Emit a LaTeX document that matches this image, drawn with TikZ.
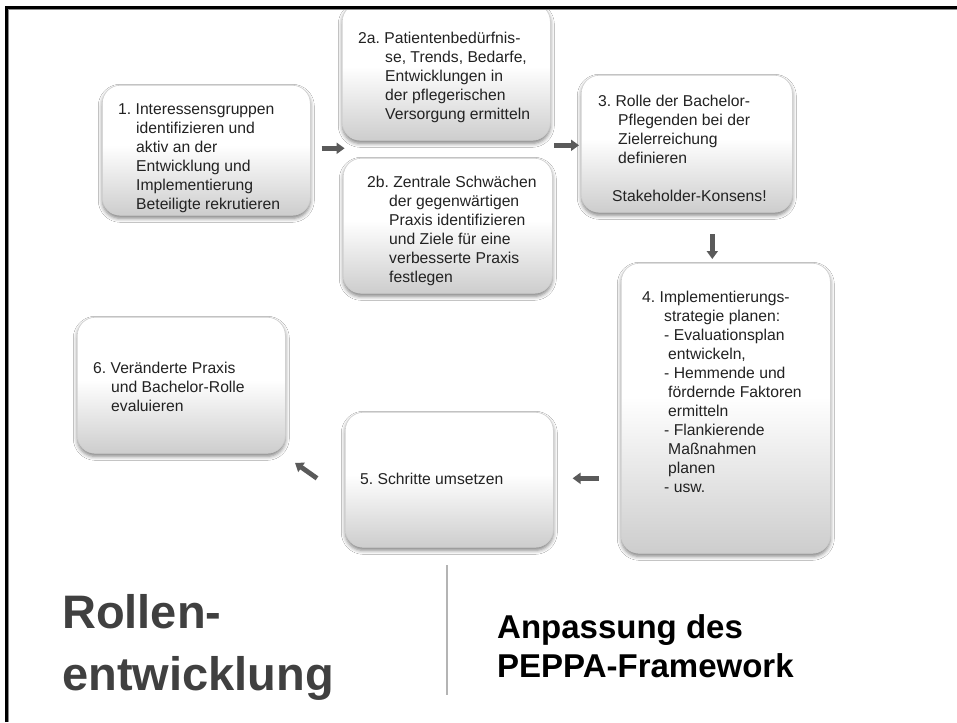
\documentclass[tikz,border=0pt]{standalone}
\usepackage{fontspec}
\setmainfont{Liberation Sans}
\usetikzlibrary{arrows.meta,shadows.blur}
\definecolor{arrgray}{HTML}{5A5A5A}
\definecolor{titlegray}{HTML}{404040}
\definecolor{boxedge}{HTML}{CFCFCF}
\definecolor{boxlow}{HTML}{CDCDCD}
\definecolor{framegray}{HTML}{8C8C8C}
\definecolor{divgray}{HTML}{B4B4B4}
\definecolor{boxtext}{HTML}{222222}
\pgfdeclareverticalshading{boxgrad}{100bp}{color(0bp)=(boxlow); color(25bp)=(boxlow); color(52bp)=(white); color(100bp)=(white)}
\newcommand\hi[1]{\hspace*{#1pt}}
\begin{document}
\begin{tikzpicture}[x=1pt,y=-1pt,
  stepbox/.style={draw=boxedge, line width=0.6pt, rounded corners=18pt, shading=boxgrad,
    blur shadow={shadow xshift=0pt, shadow yshift=-3pt, shadow blur radius=4pt, shadow opacity=50},
    anchor=north west, inner sep=0pt},
  txt/.style={anchor=west, align=left, inner sep=0pt, font=\fontsize{15.7}{19}\selectfont, text=boxtext},
  arr/.style={draw=arrgray, line width=4.8pt, -{Triangle[length=8pt,width=11pt]}},
  titlefont/.style={anchor=base west, inner sep=0pt, font=\fontsize{47}{62}\selectfont\bfseries, text=titlegray},
  subfont/.style={anchor=base west, inner sep=0pt, font=\fontsize{33}{40}\selectfont\bfseries, text=black},
]
\useasboundingbox (0,0) rectangle (957,722);
\fill[white] (0,0) rectangle (957,722);

% boxes
\node[stepbox, minimum width=208pt, minimum height=130pt] (b1) at (102,85) {};
\node[stepbox, minimum width=208pt, minimum height=137pt] (b2a) at (342,3) {};
\node[stepbox, minimum width=209pt, minimum height=135pt] (b2b) at (343,158) {};
\node[stepbox, minimum width=211pt, minimum height=137pt] (b3) at (581,75) {};
\node[stepbox, minimum width=209pt, minimum height=290pt] (b4) at (621,263) {};
\node[stepbox, minimum width=208pt, minimum height=135pt] (b5) at (345,412) {};
\node[stepbox, minimum width=208pt, minimum height=136pt] (b6) at (77,317) {};

% texts
\node[txt] (t1) at ([xshift=16pt,yshift=-8pt]b1.west) {1.~Interessensgruppen\\\hi{18}identifizieren und\\\hi{18}aktiv an der\\\hi{18}Entwicklung und\\\hi{18}Implementierung\\\hi{18}Beteiligte rekrutieren};
\node[txt] (t2a) at ([xshift=16pt,yshift=-6pt]b2a.west) {2a.~Patientenbedürfnis-\\\hi{27}se, Trends, Bedarfe,\\\hi{27}Entwicklungen in\\\hi{27}der pflegerischen\\\hi{27}Versorgung ermitteln};
\node[txt] (t2b) at ([xshift=24pt,yshift=-5pt]b2b.west) {2b.~Zentrale Schwächen\\\hi{22}der gegenwärtigen\\\hi{22}Praxis identifizieren\\\hi{22}und Ziele für eine\\\hi{22}verbesserte Praxis\\\hi{22}festlegen};
\node[txt] (t3) at ([xshift=17pt,yshift=-5pt]b3.west) {3.~Rolle der Bachelor-\\\hi{20}Pflegenden bei der\\\hi{20}Zielerreichung\\\hi{20}definieren\\[19pt]\hi{14}Stakeholder-Konsens!};
\node[txt] (t4) at ([xshift=21pt,yshift=16pt]b4.west) {4.~Implementierungs-\\\hi{22}strategie planen:\\\hi{22}- Evaluationsplan\\\hi{26}entwickeln,\\\hi{22}- Hemmende und\\\hi{26}fördernde Faktoren\\\hi{26}ermitteln\\\hi{22}- Flankierende\\\hi{26}Maßnahmen\\\hi{26}planen\\\hi{22}- usw.};
\node[txt] (t5) at ([xshift=15pt,yshift=1pt]b5.west) {5.~Schritte umsetzen};
\node[txt] (t6) at ([xshift=16pt,yshift=-2pt]b6.west) {6.~Veränderte Praxis\\\hi{18}und Bachelor-Rolle\\\hi{18}evaluieren};

% arrows
\draw[arr] ([xshift=11pt,yshift=2pt]b1.east) -- ([xshift=34pt,yshift=2pt]b1.east);
\draw[arr] ([xshift=-27pt,yshift=-1.5pt]b3.west) -- ([xshift=-2pt,yshift=-1.5pt]b3.west);
\draw[arr] ([xshift=-13.5pt,yshift=29pt]b4.north) -- ([xshift=-13.5pt,yshift=4pt]b4.north);
\draw[arr] ([xshift=45pt,yshift=1.5pt]b5.east) -- ([xshift=19pt,yshift=1.5pt]b5.east);
\draw[arr] ([xshift=-28pt,yshift=1.5pt]b5.west) -- ([xshift=-50pt,yshift=17pt]b5.west);

% frame
\fill[white] (0,0) rectangle (957,6);
\draw[framegray, line width=1pt] (8.5,722) -- (8.5,9.5) -- (957,9.5);
\draw[black, line width=3pt, line join=miter] (6.5,722) -- (6.5,7.5) -- (957,7.5);

% titles
\node[titlefont] (r1) at (62,628) {Rollen-};
\node[titlefont] (r2) at (62,690) {entwicklung};
\draw[divgray, line width=2pt] (447,565) -- (447,695);
\node[subfont] (s1) at (497,638) {Anpassung des};
\node[subfont] (s2) at (497,677) {PEPPA-Framework};
\end{tikzpicture}
\end{document}
